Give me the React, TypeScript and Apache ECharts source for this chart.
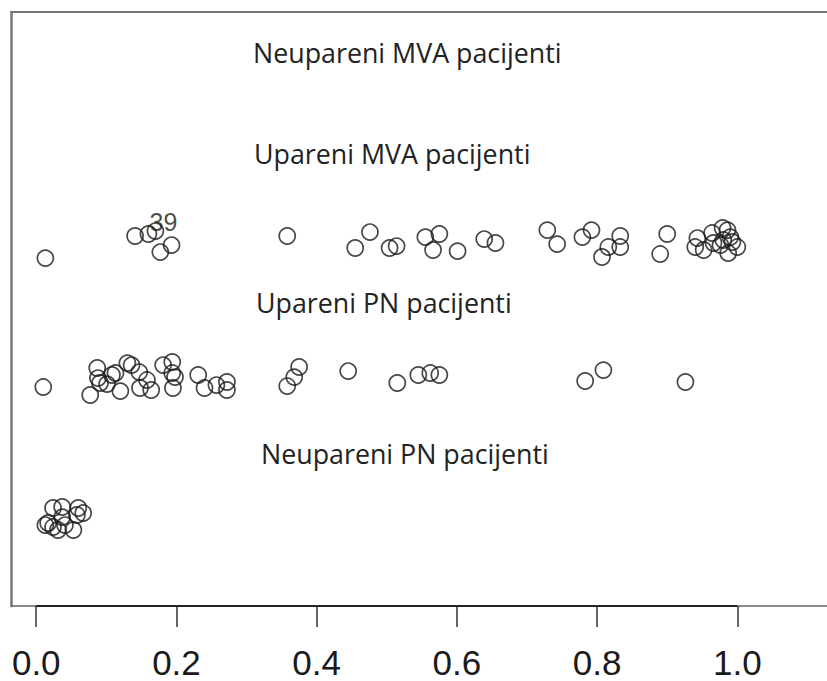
import React, { useEffect, useRef } from "react";
import * as echarts from "echarts";

// x range and y range of the plotting region (data units)
const xRange = [-0.036, 1.175];
const yRange = [0.386, 4.629];
const tickValues = [0, 0.2, 0.4, 0.6, 0.8, 1.0];
const tickLabels = ["0.0", "0.2", "0.4", "0.6", "0.8", "1.0"];

// Group titles
const groupTitles = [
  "Neupareni MVA pacijenti",
  "Upareni MVA pacijenti",
  "Upareni PN pacijenti",
  "Neupareni PN pacijenti",
];

// Upareni MVA pacijenti (level 3, jittered)
const mvaMatched: [number, number][] = [
  [0.013, 2.871], [0.141, 3.029], [0.16, 3.043], [0.17, 3.064], [0.177, 2.914],
  [0.193, 2.964], [0.358, 3.029], [0.455, 2.943], [0.476, 3.057], [0.504, 2.943],
  [0.514, 2.957], [0.555, 3.021], [0.575, 3.043], [0.566, 2.929], [0.601, 2.921],
  [0.639, 3.007], [0.655, 2.979], [0.729, 3.071], [0.743, 2.971], [0.779, 3.021],
  [0.792, 3.071], [0.807, 2.879], [0.816, 2.95], [0.833, 3.029], [0.833, 2.95],
  [0.89, 2.9], [0.9, 3.043], [0.943, 3.014], [0.94, 2.95], [0.952, 2.929],
  [0.964, 3.05], [0.966, 2.979], [0.979, 3.086], [0.986, 3.071], [0.976, 2.964],
  [0.99, 3.021], [0.993, 2.986], [0.987, 2.907], [1.0, 2.95], [0.98, 3.0],
];

// Upareni PN pacijenti (level 2, jittered)
const pnMatched: [number, number][] = [
  [0.01, 1.95], [0.087, 2.086], [0.077, 1.893], [0.091, 1.979], [0.101, 1.971],
  [0.108, 2.036], [0.113, 2.05], [0.088, 2.014], [0.12, 1.921], [0.13, 2.121],
  [0.136, 2.107], [0.147, 2.057], [0.158, 2.0], [0.148, 1.943], [0.164, 1.929],
  [0.181, 2.107], [0.194, 2.129], [0.194, 2.05], [0.198, 2.021], [0.195, 1.943],
  [0.231, 2.036], [0.24, 1.943], [0.257, 1.964], [0.272, 1.986], [0.272, 1.929],
  [0.358, 1.957], [0.368, 2.021], [0.375, 2.093], [0.445, 2.064], [0.515, 1.979],
  [0.545, 2.036], [0.562, 2.05], [0.575, 2.036], [0.783, 1.993], [0.809, 2.071],
  [0.926, 1.986],
];

// Neupareni PN pacijenti (level 1, jittered)
const pnUnmatched: [number, number][] = [
  [0.024, 1.086], [0.037, 1.093], [0.06, 1.086], [0.067, 1.05], [0.017, 0.979],
  [0.024, 0.95], [0.041, 0.964], [0.053, 0.929], [0.037, 1.021], [0.058, 1.036],
  [0.031, 0.929], [0.013, 0.964],
];

// Labelled point
const labelledIndex = 3;
const labelledText = "39";

export default function App() {
  const ref = useRef<HTMLDivElement>(null);

  useEffect(() => {
    document.body.style.overflow = "hidden";
    if (!ref.current) return;
    const chart = echarts.init(ref.current, undefined, { renderer: "svg" });

    const symbolStyle = {
      color: "rgba(0,0,0,0)",
      borderColor: "#1a1a1a",
      borderWidth: 1.7,
    };

    const mvaData = mvaMatched.map((p, i) =>
      i === labelledIndex
        ? {
            value: p,
            label: {
              show: true,
              formatter: labelledText,
              position: "top",
              offset: [8, 17],
              fontFamily: "Liberation Sans",
              fontSize: 25,
              color: "#1a1a1a",
            },
          }
        : { value: p }
    );

    const titleY = [52, 153, 302, 453];
    const titleX = [253, 254, 256, 261];

    chart.setOption({
      animation: false,
      backgroundColor: "#ffffff",
      grid: { left: 11, right: 0, top: 12, bottom: 75, show: false },
      xAxis: [
        {
          type: "value",
          min: xRange[0],
          max: xRange[1],
          position: "bottom",
          splitLine: { show: false },
          axisLine: { show: true, onZero: false, lineStyle: { color: "#666", width: 1.5 } },
          axisTick: {
            show: true,
            customValues: tickValues,
            length: 21,
            lineStyle: { color: "#333", width: 1.5 },
          },
          axisLabel: {
            show: true,
            customValues: tickValues,
            formatter: (v: number) => {
              const i = tickValues.findIndex((t) => Math.abs(t - v) < 1e-9);
              return i >= 0 ? tickLabels[i] : "";
            },
            margin: 39,
            fontFamily: "Liberation Sans",
            fontSize: 35,
            color: "#1a1a1a",
          },
        },
        {
          type: "value",
          min: xRange[0],
          max: xRange[1],
          position: "top",
          splitLine: { show: false },
          axisLine: { show: true, onZero: false, lineStyle: { color: "#777", width: 2 } },
          axisTick: { show: false },
          axisLabel: { show: false },
        },
      ],
      yAxis: {
        type: "value",
        min: yRange[0],
        max: yRange[1],
        splitLine: { show: false },
        axisLine: { show: true, onZero: false, lineStyle: { color: "#777", width: 2.5 } },
        axisTick: { show: false },
        axisLabel: { show: false },
      },
      series: [
        {
          type: "line",
          data: [
            [tickValues[0], yRange[0]],
            [tickValues[tickValues.length - 1], yRange[0]],
          ],
          symbol: "none",
          clip: false,
          lineStyle: { color: "#222", width: 2 },
          silent: true,
          z: 3,
        },
        {
          type: "scatter",
          data: mvaData,
          symbol: "circle",
          symbolSize: 16,
          itemStyle: symbolStyle,
        },
        {
          type: "scatter",
          data: pnMatched,
          symbol: "circle",
          symbolSize: 16,
          itemStyle: symbolStyle,
        },
        {
          type: "scatter",
          data: pnUnmatched,
          symbol: "circle",
          symbolSize: 16,
          itemStyle: symbolStyle,
        },
      ],
      graphic: groupTitles.map((t, i) => ({
        type: "text",
        x: titleX[i],
        y: titleY[i],
        style: {
          text: t,
          fontFamily: "Open Sans",
          fontSize: 26.8,
          fill: "#222",
          verticalAlign: "middle",
        },
      })),
    });

    return () => chart.dispose();
  }, []);

  return (
    <div
      ref={ref}
      style={{ position: "fixed", left: 0, top: 0, width: 860, height: 681, background: "#fff" }}
    />
  );
}
